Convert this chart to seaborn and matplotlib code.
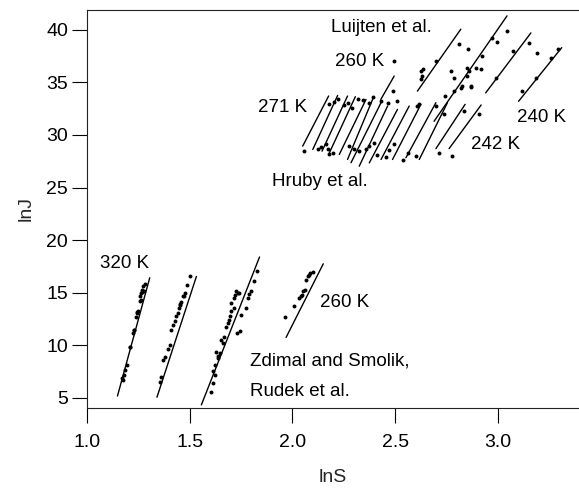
import matplotlib
matplotlib.use("Agg")
import numpy as np
import pandas as pd
import seaborn as sns
from matplotlib import pyplot as plt

# fitted lines: start / end of each segment (lnS, lnJ)
fit_lnS_start = [1.149, 1.341, 1.557, 1.969,
                 2.050, 2.099, 2.144, 2.180, 2.228, 2.268, 2.285, 2.325, 2.374,
                 2.431, 2.487, 2.552, 2.617, 2.698, 2.762,
                 2.430, 2.608, 2.689, 2.940, 3.100]
fit_lnS_end = [1.306, 1.533, 1.840, 2.150,
               2.176, 2.220, 2.268, 2.306, 2.358, 2.390, 2.431, 2.463, 2.511,
               2.568, 2.625, 2.698, 2.754, 2.840, 2.918,
               2.495, 2.819, 3.044, 3.160, 3.310]
fit_lnJ_start = [5.19, 5.07, 4.34, 10.75,
                 28.94, 28.62, 28.46, 28.31, 28.15, 27.67, 27.36, 27.03, 27.35,
                 27.67, 27.67, 27.83, 27.67, 28.70, 28.70,
                 33.38, 34.17, 31.30, 34.00, 33.20]
fit_lnJ_end = [16.43, 16.55, 18.40, 17.75,
               33.70, 33.76, 33.70, 33.64, 33.38, 33.38, 33.07, 32.75, 32.43,
               32.75, 32.91, 33.07, 33.07, 32.91, 32.85,
               35.60, 40.05, 41.32, 39.70, 38.30]

# Zdimal and Smolik, Rudek et al.
zdimal_lnS = [1.282, 1.273, 1.270, 1.265, 1.260, 1.257, 1.249, 1.244, 1.231, 1.225,
              1.209, 1.193, 1.184, 1.180, 1.173, 1.269, 1.263, 1.245, 1.238, 1.212,
              1.176, 1.229, 1.278,
              1.500, 1.487, 1.476, 1.467, 1.460, 1.451, 1.448, 1.435, 1.427, 1.411,
              1.403, 1.379, 1.370, 1.359, 1.354, 1.472, 1.455, 1.418, 1.395, 1.443,
              1.827, 1.811, 1.799, 1.791, 1.783, 1.775, 1.751, 1.743, 1.730, 1.739,
              1.727, 1.714, 1.703, 1.694, 1.678, 1.665, 1.646, 1.637, 1.621, 1.613,
              1.605, 1.629, 1.654, 1.686, 1.718, 1.735, 1.722, 1.700, 1.690, 1.660,
              1.640, 1.625, 1.615,
              1.966, 2.010, 2.034, 2.047, 2.053, 2.066, 2.074, 2.086, 2.099, 2.063,
              2.042, 2.080]
zdimal_lnJ = [15.86, 15.60, 15.29, 14.97, 14.72, 14.17, 13.22, 13.07, 11.48, 11.22,
              9.89, 8.15, 7.67, 7.19, 6.88, 15.05, 14.32, 13.20, 12.73, 9.88,
              6.71, 11.47, 15.20,
              16.62, 15.76, 14.97, 14.65, 14.08, 13.86, 13.54, 12.81, 12.27, 11.48,
              10.05, 8.94, 8.62, 7.03, 6.56, 14.70, 13.95, 11.90, 9.70, 13.10,
              17.10, 16.08, 15.13, 14.91, 14.50, 13.55, 12.91, 11.41, 11.16, 14.97,
              15.13, 14.50, 14.02, 12.75, 11.79, 10.84, 9.25, 8.78, 7.19, 6.40,
              5.60, 9.41, 10.53, 12.17, 13.55, 15.00, 14.80, 13.30, 12.40, 10.20,
              9.00, 8.10, 7.60,
              12.69, 13.70, 14.50, 14.81, 15.13, 16.24, 16.55, 16.88, 16.97, 15.29,
              14.70, 16.70]

# Hruby et al.
hruby_lnS = [2.058, 2.123, 2.164, 2.171, 2.196, 2.180, 2.220, 2.268, 2.317, 2.374,
             2.277, 2.301, 2.325, 2.358, 2.374, 2.180, 2.487, 2.431, 2.463, 2.511,
             2.608, 2.698, 2.738, 2.835, 2.495, 2.560, 2.600, 2.714, 2.778, 2.398,
             2.140, 2.200, 2.250, 2.345, 2.410, 2.455, 2.470, 2.540, 2.290, 2.390]
hruby_lnJ = [28.46, 28.62, 29.10, 28.62, 28.31, 28.15, 33.38, 33.07, 33.38, 33.07,
             28.94, 28.62, 28.46, 28.62, 28.94, 32.90, 34.17, 33.22, 33.07, 33.22,
             32.75, 32.75, 31.96, 32.27, 29.10, 28.31, 28.00, 28.31, 28.00, 29.25,
             28.90, 33.10, 32.80, 33.30, 28.10, 27.90, 28.60, 27.60, 32.60, 33.60]

# Luijten et al.
luijten_lnS = [2.625, 2.630, 2.625, 2.698, 2.808, 2.856, 2.770, 2.786, 2.851, 2.859,
               2.851, 2.895, 2.916, 2.924, 2.827, 2.868, 2.786, 2.972, 2.997, 3.045,
               2.989, 3.073, 3.150, 3.191, 3.256, 3.293, 3.183, 3.118, 2.819, 2.868,
               2.617, 2.492, 2.633, 2.908, 2.740]
luijten_lnJ = [36.08, 35.60, 35.29, 37.03, 38.62, 38.15, 36.08, 35.45, 36.40, 36.08,
               35.60, 36.40, 36.24, 37.50, 34.65, 34.65, 34.17, 39.26, 38.88, 39.89,
               35.45, 37.98, 38.77, 37.83, 37.35, 38.15, 35.45, 34.17, 34.50, 34.60,
               32.90, 37.03, 36.24, 31.96, 33.70]

labels = ["Luijten et al.", "260 K", "271 K", "240 K", "242 K", "Hruby et al.",
          "320 K", "260 K", "Zdimal and Smolik,", "Rudek et al."]
label_lnS = [2.433, 2.328, 1.954, 3.214, 2.990, 2.134, 1.185, 2.255, 1.793, 1.793]
label_lnJ = [40.2, 37.0, 32.6, 31.7, 29.1, 25.55, 17.8, 14.1, 8.5, 5.6]
label_ha = ["center", "center", "center", "center", "center", "center",
            "center", "center", "left", "left"]

sns.set_style("ticks")
plt.rcParams.update({
    "font.family": ["Liberation Sans", "DejaVu Sans"],
    "font.size": 14,
    "axes.linewidth": 0.8,
    "xtick.major.width": 0.8,
    "ytick.major.width": 0.8,
    "xtick.major.size": 10.5,
    "ytick.major.size": 10.5,
    "xtick.color": "black",
    "ytick.color": "black",
    "axes.edgecolor": "#222222",
})

fig = plt.figure(figsize=(5.79, 4.88), dpi=100)
ax = fig.add_axes([0.150, 0.164, 0.850, 0.816])

fits = pd.DataFrame({
    "fit": np.repeat(np.arange(len(fit_lnS_start)), 2),
    "lnS": np.column_stack([fit_lnS_start, fit_lnS_end]).ravel(),
    "lnJ": np.column_stack([fit_lnJ_start, fit_lnJ_end]).ravel(),
})
sns.lineplot(data=fits, x="lnS", y="lnJ", units="fit", estimator=None,
             color="black", lw=1.0, ax=ax, sort=False)

points = pd.concat([
    pd.DataFrame({"lnS": zdimal_lnS, "lnJ": zdimal_lnJ, "set": "Zdimal"}),
    pd.DataFrame({"lnS": hruby_lnS, "lnJ": hruby_lnJ, "set": "Hruby"}),
    pd.DataFrame({"lnS": luijten_lnS, "lnJ": luijten_lnJ, "set": "Luijten"}),
])
sns.scatterplot(data=points, x="lnS", y="lnJ", color="black", s=8,
                linewidth=0, ax=ax, legend=False)

for txt, x, y, ha in zip(labels, label_lnS, label_lnJ, label_ha):
    ax.text(x, y, txt, ha=ha, va="center", fontsize=13.5, color="black")

ax.set_xlim(1.0, 3.394)
ax.set_ylim(4.05, 41.9)
ax.set_xticks([1.0, 1.5, 2.0, 2.5, 3.0])
ax.set_xticklabels(["1.0", "1.5", "2.0", "2.5", "3.0"])
ax.set_yticks([5, 10, 15, 20, 25, 30, 35, 40])
ax.tick_params(axis="x", pad=8, labelsize=14)
ax.tick_params(axis="y", pad=3, labelsize=14)
ax.spines["right"].set_visible(False)
ax.set_xlabel("lnS", fontsize=14, labelpad=13)
ax.set_ylabel("lnJ", fontsize=14, labelpad=8)

fig.savefig("out.png", dpi=100)
